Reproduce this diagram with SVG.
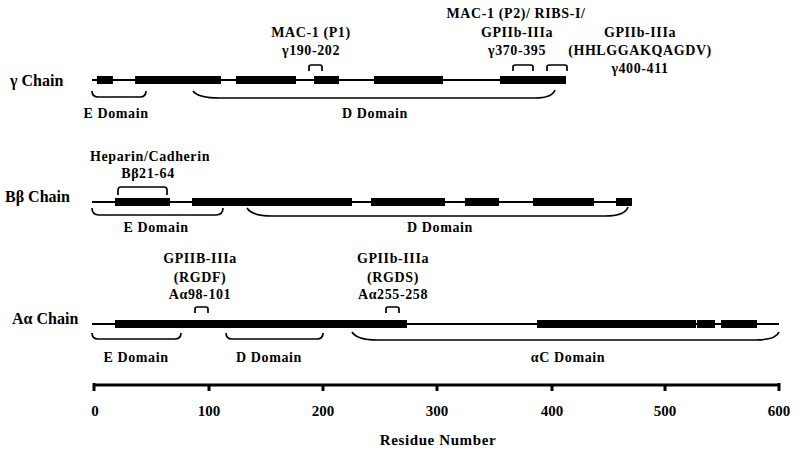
<svg xmlns="http://www.w3.org/2000/svg" width="800" height="455" viewBox="0 0 800 455">
<style>
text{font-family:"Liberation Serif","Times New Roman",serif;font-weight:bold;fill:#000}
.lab{font-size:14px;letter-spacing:0.6px;text-anchor:middle}
.chain{font-size:16px}
.ax{font-size:15px;text-anchor:middle}
.bb{stroke:#000;stroke-width:2;fill:none}
.br{stroke:#000;stroke-width:1.7;fill:none}
.blk{fill:#000}
</style>
<rect width="800" height="455" fill="#fff"/>

<g id="gamma-chain">
<text class="chain" x="10" y="86">γ Chain</text>
<line class="bb" x1="92" y1="80" x2="566" y2="80"/>
<rect class="blk" x="97" y="76" width="16" height="8"/>
<rect class="blk" x="135" y="76" width="86" height="8"/>
<rect class="blk" x="236" y="76" width="60" height="8"/>
<rect class="blk" x="314" y="76" width="25" height="8"/>
<rect class="blk" x="374" y="76" width="69" height="8"/>
<rect class="blk" x="500" y="76" width="66" height="8"/>
</g>
<g id="gamma-labels">
<text class="lab" x="311" y="37">MAC-1 (P1)</text>
<text class="lab" x="311" y="55">γ190-202</text>
<text class="lab" x="516" y="18">MAC-1 (P2)/ RIBS-I/</text>
<text class="lab" x="517" y="37">GPIIb-IIIa</text>
<text class="lab" x="517" y="55">γ370-395</text>
<text class="lab" x="640" y="37">GPIIb-IIIa</text>
<text class="lab" x="640" y="55">(HHLGGAKQAGDV)</text>
<text class="lab" x="640" y="73">γ400-411</text>
<text class="lab" x="116" y="118">E Domain</text>
<text class="lab" x="375" y="118">D Domain</text>
</g>

<g id="beta-chain">
<text class="chain" x="5" y="202">Bβ Chain</text>
<line class="bb" x1="92" y1="202" x2="632" y2="202"/>
<rect class="blk" x="115" y="198" width="55" height="8"/>
<rect class="blk" x="192" y="198" width="160" height="8"/>
<rect class="blk" x="371" y="198" width="74" height="8"/>
<rect class="blk" x="465" y="198" width="34" height="8"/>
<rect class="blk" x="533" y="198" width="61" height="8"/>
<rect class="blk" x="616" y="198" width="16" height="8"/>
</g>
<g id="beta-labels">
<text class="lab" x="150" y="161">Heparin/Cadherin</text>
<text class="lab" x="148" y="178">Bβ21-64</text>
<text class="lab" x="156" y="232">E Domain</text>
<text class="lab" x="440" y="232">D Domain</text>
</g>

<g id="alpha-chain">
<text class="chain" x="12" y="324">Aα Chain</text>
<line class="bb" x1="92" y1="324" x2="779" y2="324"/>
<rect class="blk" x="115" y="320" width="292" height="8"/>
<rect class="blk" x="537" y="320" width="159" height="8"/>
<rect class="blk" x="697" y="320" width="18" height="8"/>
<rect class="blk" x="721" y="320" width="36" height="8"/>
</g>
<g id="alpha-labels">
<text class="lab" x="200" y="263">GPIIB-IIIa</text>
<text class="lab" x="200" y="282">(RGDF)</text>
<text class="lab" x="200" y="299">Aα98-101</text>
<text class="lab" x="393" y="263">GPIIb-IIIa</text>
<text class="lab" x="393" y="282">(RGDS)</text>
<text class="lab" x="393" y="299">Aα255-258</text>
<text class="lab" x="136" y="362">E Domain</text>
<text class="lab" x="269" y="362">D Domain</text>
<text class="lab" x="568" y="362">αC Domain</text>
</g>

<g id="connectors">
<!-- gamma -->
<path class="br" d="M92 91 Q92 97 98 97 L140 97 Q146 97 146 91"/>
<path class="br" d="M193 91 Q198 98 220 98 L535 98 Q552 98 555 90"/>
<path class="br" d="M309 71 L309 67 Q309 65 311 65 L320 65 Q322 65 322 67 L322 71"/>
<path class="br" d="M513 71 L513 67 Q513 65 515 65 L531 65 Q533 65 533 67 L533 71"/>
<path class="br" d="M547 71 L547 67 Q547 65 549 65 L565 65 Q567 65 567 67 L567 71"/>
<!-- beta -->
<path class="br" d="M92 208 Q92 215 99 215 L216 215 Q223 215 223 208"/>
<path class="br" d="M247 208 Q252 216 272 216 L605 216 Q625 216 628 207"/>
<path class="br" d="M118 195 L118 190 Q118 187 121 187 L164 187 Q167 187 167 190 L167 195"/>
<!-- alpha -->
<path class="br" d="M92 333 Q92 339 98 339 L175 339 Q181 339 181 333"/>
<path class="br" d="M226 333 Q226 339 232 339 L317 339 Q323 339 323 333"/>
<path class="br" d="M352 332 Q357 340 377 340 L755 340 Q776 340 779 332"/>
<path class="br" d="M195 313 L195 309 Q195 307 197 307 L206 307 Q208 307 208 309 L208 313"/>
<path class="br" d="M386 313 L386 309 Q386 307 388 307 L397 307 Q399 307 399 309 L399 313"/>
</g>

<g id="axis">
<line x1="94" y1="385" x2="779" y2="385" stroke="#000" stroke-width="3"/>
<g stroke="#000" stroke-width="3">
<line x1="94" y1="383" x2="94" y2="391"/>
<line x1="209" y1="385" x2="209" y2="391"/>
<line x1="323" y1="385" x2="323" y2="391"/>
<line x1="437" y1="385" x2="437" y2="391"/>
<line x1="552" y1="385" x2="552" y2="391"/>
<line x1="665" y1="385" x2="665" y2="391"/>
<line x1="779" y1="383" x2="779" y2="391"/>
</g>
<text class="ax" x="95" y="416">0</text>
<text class="ax" x="209" y="416">100</text>
<text class="ax" x="323" y="416">200</text>
<text class="ax" x="437" y="416">300</text>
<text class="ax" x="552" y="416">400</text>
<text class="ax" x="665" y="416">500</text>
<text class="ax" x="779" y="416">600</text>
<text class="ax" x="438" y="445" style="letter-spacing:0.6px">Residue Number</text>
</g>
</svg>
